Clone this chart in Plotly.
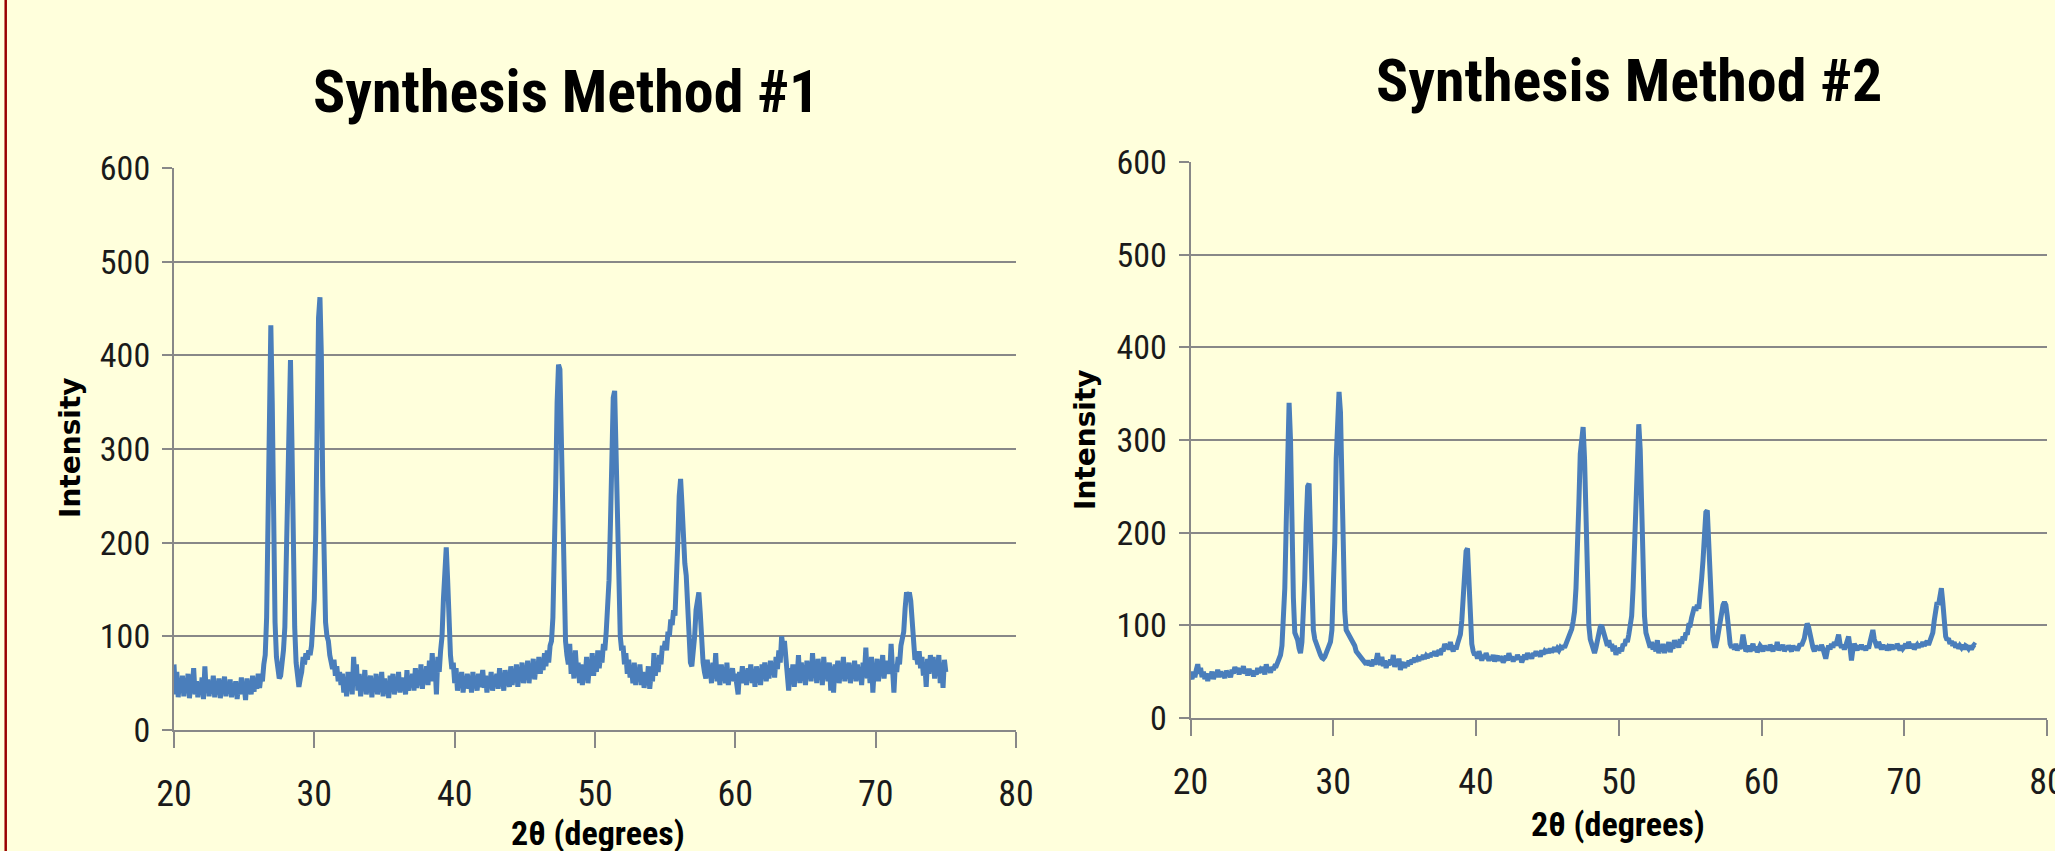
import plotly.graph_objects as go

# 2-theta grid: start and step (degrees)
two_theta_start = 20.0
two_theta_step = 0.1

# Intensity, one value per 0.1 degree, 20.0 .. 75.0
intensity_method1 = [
    70, 38, 62, 35, 55, 40, 58, 36, 52, 42,
    60, 34, 50, 44, 66, 38, 52, 35, 48, 40,
    56, 33, 68, 40, 54, 36, 50, 42, 58, 35,
    52, 38, 55, 34, 49, 44, 57, 36, 51, 40,
    54, 35, 48, 42, 52, 33, 50, 38, 56, 40,
    47, 32, 55, 40, 52, 38, 58, 41, 54, 44,
    60, 45, 58, 52, 70, 80, 120, 220, 380, 432,
    350, 200, 115, 78, 62, 55, 58, 70, 85, 110,
    180, 290, 370, 395, 310, 190, 110, 72, 52, 46,
    55, 62, 78, 70, 82, 75, 85, 80, 90, 110,
    140, 210, 330, 440, 462, 400, 260, 160, 115, 100,
    95, 80, 72, 65, 75, 58, 68, 52, 62, 48,
    60, 40, 55, 36, 62, 45, 58, 38, 78, 50,
    70, 42, 60, 36, 56, 44, 64, 38, 52, 46,
    58, 35, 54, 42, 60, 38, 50, 44, 62, 36,
    55, 40, 52, 34, 58, 45, 60, 38, 54, 42,
    62, 40, 56, 44, 52, 38, 64, 42, 58, 46,
    60, 42, 66, 45, 58, 48, 70, 44, 62, 50,
    68, 48, 74, 52, 82, 55, 70, 38, 78, 62,
    85, 100, 140, 185, 195, 160, 110, 80, 65, 72,
    50, 66, 42, 58, 48, 62, 40, 55, 46, 60,
    44, 58, 40, 62, 48, 55, 42, 60, 46, 52,
    64, 45, 58, 40, 55, 48, 62, 42, 56, 50,
    60, 44, 66, 48, 58, 42, 64, 50, 56, 46,
    68, 48, 62, 52, 70, 46, 64, 54, 72, 50,
    66, 55, 74, 50, 68, 58, 76, 54, 70, 60,
    78, 60, 72, 64, 82, 68, 85, 72, 90, 95,
    120, 170, 260, 350, 390, 385, 300, 190, 120, 95,
    80, 70, 92, 60, 75, 55, 85, 62, 72, 50,
    70, 48, 66, 55, 78, 50, 68, 60, 82, 58,
    74, 62, 85, 66, 80, 72, 92, 85, 105, 130,
    160, 220, 300, 355, 362, 300, 200, 130, 100, 85,
    90, 70, 82, 60, 75, 56, 68, 50, 72, 48,
    65, 52, 70, 48, 62, 45, 58, 50, 68, 44,
    60, 52, 82, 58, 75, 62, 80, 70, 90, 85,
    95, 85, 105, 100, 118, 112, 128, 122, 150, 200,
    250, 268, 240, 195, 178, 165, 130, 95, 72, 68,
    80, 100, 128, 145, 147, 125, 95, 72, 62, 55,
    75, 58, 68, 50, 72, 55, 82, 52, 66, 48,
    70, 55, 64, 50, 72, 48, 62, 58, 66, 52,
    60, 48, 38, 62, 52, 68, 50, 64, 48, 66,
    55, 70, 50, 64, 46, 68, 56, 62, 48, 70,
    58, 72, 52, 66, 55, 74, 60, 70, 56, 78,
    65, 85, 72, 100, 88, 95, 70, 60, 42, 66,
    52, 70, 46, 68, 55, 80, 50, 72, 58, 66,
    48, 74, 56, 68, 52, 82, 60, 70, 50, 76,
    56, 70, 48, 78, 58, 66, 52, 72, 42, 68,
    40, 70, 56, 74, 50, 66, 58, 78, 52, 70,
    55, 72, 50, 68, 58, 74, 52, 70, 56, 66,
    48, 72, 60, 88, 55, 70, 50, 78, 40, 66,
    58, 76, 52, 70, 62, 80, 55, 74, 60, 68,
    60, 92, 58, 40, 70, 62, 78, 70, 90, 100,
    105, 130, 147, 140, 147, 138, 115, 90, 75, 80,
    70, 84, 66, 78, 58, 72, 46, 76, 60, 80,
    65, 78, 55, 74, 62, 80, 50, 72, 45, 75,
    62,
]

intensity_method2 = [
    46, 42, 50, 44, 52, 58, 48, 54, 44, 50,
    42, 48, 40, 46, 44, 50, 42, 47, 45, 52,
    44, 50, 46, 48, 43, 51, 47, 49, 44, 52,
    48, 55, 50, 54, 47, 53, 49, 56, 48, 52,
    46, 53, 48, 51, 45, 50, 47, 54, 49, 52,
    50, 55, 47, 58, 51, 53, 49, 55, 52, 56,
    56, 60, 63, 68, 78, 100, 140, 210, 300, 340,
    300, 200, 130, 92, 88, 84, 75, 70, 82, 110,
    150, 210, 250, 253, 200, 130, 95, 85, 80, 75,
    72, 68, 65, 64, 66, 70, 72, 78, 82, 95,
    130, 190, 280, 340, 352, 330, 250, 160, 115, 95,
    92, 88, 85, 82, 80, 78, 72, 70, 68, 66,
    64, 62, 60, 58, 62, 57, 60, 56, 63, 58,
    62, 70, 60, 58, 66, 56, 62, 54, 60, 57,
    63, 58, 68, 55, 62, 57, 64, 52, 58, 60,
    54, 60, 56, 62, 58, 63, 60, 65, 61, 64,
    62, 66, 63, 68, 64, 67, 65, 69, 66, 70,
    68, 72, 67, 70, 73, 68, 75, 72, 80, 76,
    78, 74, 82, 76, 72, 78, 74, 80, 86, 90,
    105, 130, 160, 180, 183, 150, 105, 80, 72, 68,
    70, 64, 72, 66, 62, 68, 64, 70, 65, 62,
    66, 63, 68, 61, 65, 67, 62, 66, 64, 60,
    63, 67, 62, 70, 64, 66, 61, 65, 63, 68,
    64, 66, 60, 65, 68, 63, 70, 66, 68, 64,
    70, 67, 72, 68, 71, 66, 73, 69, 72, 70,
    74, 70, 75, 71, 73, 76, 72, 75, 73, 76,
    74, 78, 76, 80, 82, 86, 90, 96, 104, 115,
    140, 175, 230, 285, 310, 314, 280, 200, 135, 100,
    85, 78, 72, 70, 76, 85, 92, 98, 100, 95,
    88, 82, 78, 84, 76, 80, 72, 78, 68, 74,
    70, 76, 72, 80, 78, 85, 82, 90, 98, 110,
    140, 190, 260, 305, 317, 290, 220, 150, 110, 92,
    85, 80, 76, 82, 74, 78, 72, 84, 70, 76,
    72, 80, 70, 78, 74, 82, 71, 79, 75, 84,
    78, 82, 76, 85, 80, 88, 84, 92, 90, 100,
    100, 108, 115, 120, 116, 122, 118, 130, 150, 170,
    205, 222, 224, 190, 140, 105, 85, 78, 78, 85,
    95, 108, 118, 122, 125, 122, 110, 92, 80, 76,
    78, 74, 80, 73, 77, 75, 79, 90, 76, 72,
    74, 78, 72, 76, 80, 73, 77, 71, 75, 78,
    76, 72, 78, 74, 77, 73, 79, 75, 72, 78,
    74, 82, 73, 77, 75, 79, 72, 76, 74, 78,
    75, 72, 78, 74, 77, 73, 76, 80, 78, 82,
    86, 95, 102, 98, 88, 80, 76, 72, 78, 74,
    77, 73, 79, 75, 70, 64, 72, 78, 74, 80,
    76, 82, 78, 85, 90, 80, 76, 79, 74, 78,
    82, 88, 76, 62, 74, 80, 77, 73, 78, 75,
    79, 74, 77, 73, 78, 75, 82, 92, 95, 85,
    80, 76, 82, 77, 74, 79, 75, 78, 73, 77,
    76, 79, 74, 78, 75, 80, 76, 73, 78, 75,
    77, 80, 75, 82, 78, 76, 80, 74, 77, 79,
    76, 80, 77, 82, 78, 80, 83, 79, 84, 88,
    92, 105, 118, 125, 122, 135, 140, 125, 100, 88,
    84, 86, 80, 83, 78, 82, 76, 80, 75, 78,
    76, 79, 74, 78, 77, 75, 78, 74, 77, 79,
    78,
]

chart_titles = ["Synthesis Method #1", "Synthesis Method #2"]
x_title = "2θ (degrees)"
y_title = "Intensity"
x_tick_values = [20, 30, 40, 50, 60, 70, 80]
y_tick_values = [0, 100, 200, 300, 400, 500, 600]

BG = "#FFFFDC"
LINE = "#4A7EBB"
GRID = "#888888"
NARROW = "Liberation Sans Narrow, Arial Narrow, Roboto Condensed, DejaVu Sans Condensed, sans-serif"

fig = go.Figure()
fig.add_trace(go.Scatter(x0=two_theta_start, dx=two_theta_step, y=intensity_method1,
                         mode="lines", line=dict(color=LINE, width=5),
                         xaxis="x", yaxis="y", showlegend=False, hoverinfo="skip"))
fig.add_trace(go.Scatter(x0=two_theta_start, dx=two_theta_step, y=intensity_method2,
                         mode="lines", line=dict(color=LINE, width=5),
                         xaxis="x2", yaxis="y2", showlegend=False, hoverinfo="skip"))

W, H = 2055, 851

def xa(domain, anchor):
    return dict(domain=domain, anchor=anchor, range=[20, 80], tickvals=x_tick_values,
                automargin=False, ticklabeloverflow="allow",
                showline=True, linecolor=GRID, linewidth=2, ticks="outside", ticklen=16,
                tickwidth=2, tickcolor=GRID, showgrid=False, zeroline=False,
                tickfont=dict(family=NARROW, size=36, color="#1a1a1a"),
                ticklabelstandoff=15, fixedrange=True)

def ya(domain, anchor):
    return dict(domain=domain, anchor=anchor, range=[0, 600], tickvals=y_tick_values,
                automargin=False, ticklabeloverflow="allow",
                showline=True, linecolor=GRID, linewidth=2, ticks="outside", ticklen=10,
                tickwidth=2, tickcolor=GRID, showgrid=True, gridcolor=GRID, gridwidth=2,
                zeroline=False, tickfont=dict(family=NARROW, size=34, color="#1a1a1a"),
                ticklabelstandoff=5, fixedrange=True)

fig.update_layout(
    template="none",
    width=W, height=H, paper_bgcolor=BG, plot_bgcolor=BG,
    margin=dict(l=0, r=0, t=0, b=0, pad=0, autoexpand=False),
    xaxis=xa([174 / W, 1016 / W], "y"),
    yaxis=ya([(H - 730) / H, (H - 168) / H], "x"),
    xaxis2=xa([1190.6 / W, 2047 / W], "y2"),
    yaxis2=ya([(H - 718) / H, (H - 162) / H], "x2"),
)

ann = []
ann.append(dict(text=chart_titles[0], x=566 / W, y=(H - 91) / H, xref="paper", yref="paper",
                showarrow=False, xanchor="center", yanchor="middle",
                font=dict(family=NARROW, size=60, color="#000000", weight="bold")))
ann.append(dict(text=chart_titles[1], x=1629 / W, y=(H - 80) / H, xref="paper", yref="paper",
                showarrow=False, xanchor="center", yanchor="middle",
                font=dict(family=NARROW, size=60, color="#000000", weight="bold")))
for xc, yc in [(70, 448), (1085, 440)]:
    ann.append(dict(text=y_title, x=xc / W, y=(H - yc) / H, xref="paper", yref="paper",
                    showarrow=False, xanchor="center", yanchor="middle", textangle=-90,
                    font=dict(family="DejaVu Sans, Verdana, sans-serif", size=28,
                              color="#000000", weight="bold")))
for xc, yc in [(597.5, 833), (1618, 824)]:
    ann.append(dict(text=x_title, x=xc / W, y=(H - yc) / H, xref="paper", yref="paper",
                    showarrow=False, xanchor="center", yanchor="middle",
                    font=dict(family=NARROW, size=34, color="#000000", weight="bold")))
fig.update_layout(annotations=ann)

fig.add_shape(type="line", xref="paper", yref="paper", x0=5.7 / W, x1=5.7 / W, y0=0, y1=1,
              line=dict(color="#990000", width=2.5))

fig.write_html(
    "out.html",
    config={"displayModeBar": False},
    post_script="document.body.style.margin='0';document.body.style.overflow='hidden';"
                "document.body.style.background='#FFFFDC';",
)
